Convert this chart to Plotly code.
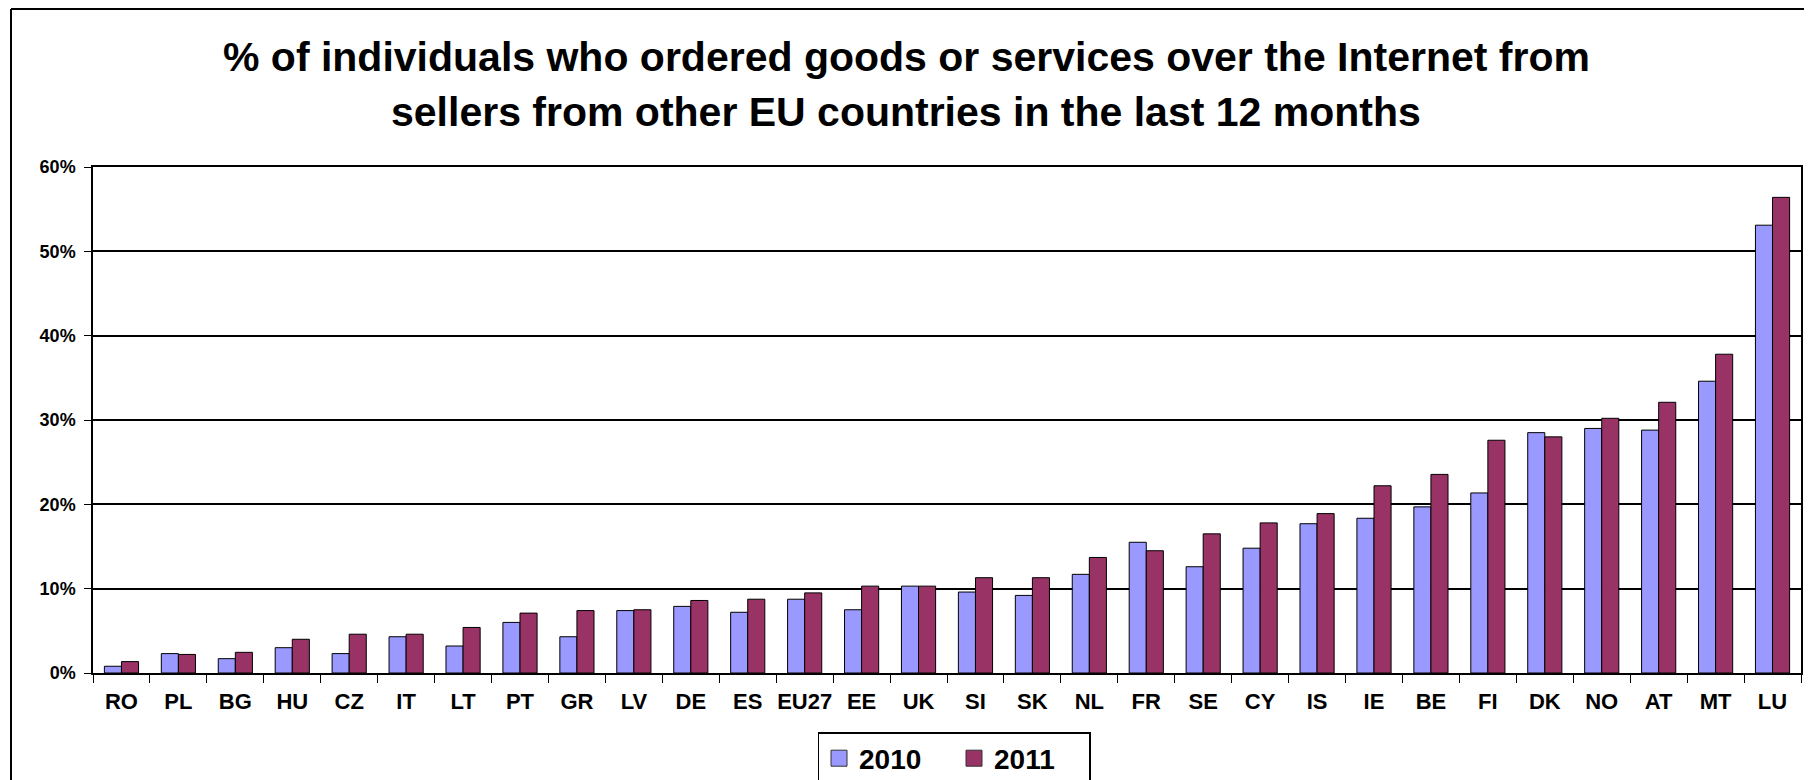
import plotly.graph_objects as go

countries = ["RO", "PL", "BG", "HU", "CZ", "IT", "LT", "PT", "GR", "LV", "DE", "ES", "EU27", "EE", "UK",
             "SI", "SK", "NL", "FR", "SE", "CY", "IS", "IE", "BE", "FI", "DK", "NO", "AT", "MT", "LU"]
v2010 = [0.8, 2.3, 1.7, 3.0, 2.3, 4.3, 3.2, 6.0, 4.3, 7.4, 7.9, 7.2, 8.75, 7.5, 10.3,
         9.6, 9.2, 11.7, 15.5, 12.6, 14.8, 17.7, 18.35, 19.7, 21.35, 28.5, 29.0, 28.8, 34.6, 53.1]
v2011 = [1.35, 2.2, 2.45, 4.0, 4.6, 4.6, 5.4, 7.1, 7.4, 7.5, 8.6, 8.75, 9.5, 10.3, 10.3,
         11.3, 11.3, 13.7, 14.5, 16.5, 17.8, 18.9, 22.2, 23.55, 27.6, 28.0, 30.2, 32.1, 37.8, 56.4]
series_names = ["2010", "2011"]
y_ticks = [0, 10, 20, 30, 40, 50, 60]
y_tick_labels = ["0%", "10%", "20%", "30%", "40%", "50%", "60%"]

title_lines = ["% of individuals who ordered goods or services over the Internet from",
               "sellers from other EU countries in the last 12 months"]

C2010 = "#9999FF"
C2011 = "#993366"
FONT = "Liberation Sans, Arial, sans-serif"

W, H = 1812, 780
OFF = 8  # page body margin offset
L, R, T, B = 93 - OFF, 11 + OFF, 167 - OFF, 107 + OFF

fig = go.Figure()
fig.add_trace(go.Bar(x=countries, y=v2010, name=series_names[0], marker=dict(color=C2010, line=dict(color="#000000", width=1)), showlegend=False))
fig.add_trace(go.Bar(x=countries, y=v2011, name=series_names[1], marker=dict(color=C2011, line=dict(color="#000000", width=1)), showlegend=False))
# legend entries with larger square swatches
for nm, col in zip(series_names, [C2010, C2011]):
    fig.add_trace(go.Scatter(x=[None], y=[None], mode="markers", name=nm,
                             marker=dict(symbol="square", size=17, color=col, line=dict(color="#333333", width=1))))

pw = W - L - R
ph = H - T - B
def px2x(px):
    return (px - OFF - L) / pw
def py2y(py):
    return (H - B - (py - OFF)) / ph

shapes = [
    dict(type="line", xref="paper", yref="paper", x0=px2x(11), x1=px2x(1830), y0=py2y(9), y1=py2y(9), line=dict(color="#000000", width=2)),
    dict(type="line", xref="paper", yref="paper", x0=px2x(11), x1=px2x(11), y0=py2y(9), y1=py2y(800), line=dict(color="#000000", width=2)),
]

annotations = []
for i, line in enumerate(title_lines):
    annotations.append(dict(text="<b>" + line + "</b>", xref="paper", yref="paper", x=px2x(906), y=py2y(57 + 55 * i),
                            xanchor="center", yanchor="middle", showarrow=False,
                            font=dict(family=FONT, size=41, color="#000000")))

fig.update_layout(
    width=W, height=H,
    margin=dict(l=L, r=R, t=T, b=B, pad=0),
    paper_bgcolor="#FFFFFF", plot_bgcolor="#FFFFFF",
    bargap=0.4, bargroupgap=0,
    barmode="group",
    shapes=shapes,
    annotations=annotations,
    font=dict(family=FONT, color="#000000"),
    legend=dict(orientation="h", xref="container", yref="container", x=(954 - OFF) / W, y=1 - (732 - OFF) / H,
                xanchor="center", yanchor="top", bordercolor="#000000", borderwidth=1.5,
                font=dict(family=FONT, size=28, color="#000000", weight="bold"),
                itemsizing="trace", traceorder="normal", itemwidth=30, entrywidthmode="pixels", entrywidth=90,
                tracegroupgap=0),
    xaxis=dict(type="category", showline=True, linecolor="#000000", linewidth=1.5, mirror=True, automargin=False,
               ticks="outside", ticklen=8, tickcolor="#000000", tickson="boundaries", ticklabelstandoff=8, tickangle=0,
               tickfont=dict(family=FONT, size=22, color="#000000", weight="bold"), showgrid=False),
    yaxis=dict(range=[0, 60], tickvals=y_ticks, ticktext=y_tick_labels, showline=True, linecolor="#000000", linewidth=1.5,
               mirror=True, ticks="outside", ticklen=7, tickcolor="#000000", automargin=False, ticklabelstandoff=5,
               showgrid=True, gridcolor="#000000", gridwidth=1.5, zeroline=False,
               tickfont=dict(family=FONT, size=18, color="#000000", weight="bold")),
)

fig.write_html("out.html")
